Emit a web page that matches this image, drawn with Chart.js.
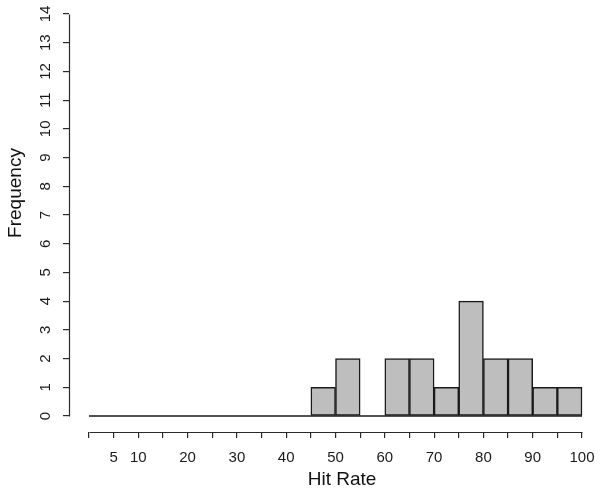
<!DOCTYPE html>
<html><head><meta charset="utf-8">
<script src="https://cdn.jsdelivr.net/npm/chart.js@4/dist/chart.umd.min.js"></script>
<style>html,body{margin:0;padding:0;background:#fff;}#wrap{width:600px;height:493px;position:relative;}</style>
</head><body><div id="wrap"><canvas id="c" width="600" height="493"></canvas></div>
<script>
// ---- data ----
const binStarts = [0,5,10,15,20,25,30,35,40,45,50,55,60,65,70,75,80,85,90,95];
const binWidth = 5;
const counts = [0,0,0,0,0,0,0,0,0,1,2,0,2,2,1,4,2,2,1,1];
const xTickValues = [0,5,10,15,20,25,30,35,40,45,50,55,60,65,70,75,80,85,90,95,100];
const xLabelValues = [5,10,20,30,40,50,60,70,80,90,100];
const yTickValues = [0,1,2,3,4,5,6,7,8,9,10,11,12,13,14];
const xTitle = 'Hit Rate';
const yTitle = 'Frequency';

Chart.defaults.font.family = '"Liberation Sans", Arial, Helvetica, sans-serif';

const barData = binStarts.map((s, i) => ({x: s + binWidth / 2, y: counts[i]}));
const baseData = [{x: binStarts[0], y: 0}, {x: binStarts[binStarts.length - 1] + binWidth, y: 0}];

const rAxes = {
  id: 'rAxes',
  afterDraw(chart) {
    const {ctx, scales: {x, y}, chartArea} = chart;
    ctx.save();
    ctx.strokeStyle = '#2a2a2a';
    ctx.lineWidth = 1.2;
    // y axis line (R style, spans first to last tick)
    const ax = Math.round(chartArea.left) + 0.5;
    ctx.beginPath();
    ctx.moveTo(ax, Math.round(y.getPixelForValue(yTickValues[0])) + 0.5);
    ctx.lineTo(ax, Math.round(y.getPixelForValue(yTickValues[yTickValues.length - 1])) + 0.5);
    ctx.stroke();
    // x axis line
    const ay = Math.round(chartArea.bottom) + 0.5;
    ctx.beginPath();
    ctx.moveTo(Math.round(x.getPixelForValue(xTickValues[0])) + 0.5, ay);
    ctx.lineTo(Math.round(x.getPixelForValue(xTickValues[xTickValues.length - 1])) + 0.5, ay);
    ctx.stroke();
    // titles
    ctx.fillStyle = '#111';
    ctx.font = '19px ' + Chart.defaults.font.family;
    ctx.textAlign = 'center';
    ctx.textBaseline = 'middle';
    ctx.fillText(xTitle, 342, 480);
    ctx.translate(16, 193);
    ctx.rotate(-Math.PI / 2);
    ctx.fillText(yTitle, 0, 0);
    ctx.restore();
  }
};

new Chart(document.getElementById('c'), {
  type: 'bar',
  data: {
    datasets: [
      {
        type: 'bar',
        data: barData,
        backgroundColor: '#bebebe',
        borderColor: '#1a1a1a',
        borderWidth: 1.5,
        borderSkipped: false,
        barPercentage: 1,
        categoryPercentage: 1,
        grouped: false,
        order: 2
      },
      {
        type: 'line',
        data: baseData,
        borderColor: '#1a1a1a',
        borderWidth: 1.5,
        pointRadius: 0,
        fill: false,
        order: 1
      }
    ]
  },
  options: {
    responsive: false,
    animation: false,
    devicePixelRatio: 1,
    layout: {padding: {top: 4, left: 0, right: 0, bottom: 0}},
    plugins: {legend: {display: false}, tooltip: {enabled: false}},
    scales: {
      x: {
        type: 'linear',
        offset: false,
        min: -4.057,
        max: 103.65,
        afterBuildTicks: s => { s.ticks = xTickValues.map(v => ({value: v})); },
        afterFit: s => { s.height = 61; s.paddingLeft = 0; s.paddingRight = 0; },
        ticks: {
          autoSkip: false, maxRotation: 0, minRotation: 0,
          callback: v => xLabelValues.includes(v) ? String(v) : '',
          font: {size: 15}, color: '#1a1a1a', padding: 11
        },
        grid: {offset: false, drawOnChartArea: false, drawTicks: true, tickLength: 6, color: '#2a2a2a', lineWidth: 1.2},
        border: {display: false}
      },
      y: {
        type: 'linear',
        min: -0.557,
        max: 14.348,
        afterBuildTicks: s => { s.ticks = yTickValues.map(v => ({value: v})); },
        afterFit: s => { s.width = 69; s.paddingTop = 0; s.paddingBottom = 0; },
        ticks: {
          autoSkip: false, minRotation: 90, maxRotation: 90, crossAlign: 'center',
          font: {size: 15}, color: '#1a1a1a', padding: 9
        },
        grid: {drawOnChartArea: false, drawTicks: true, tickLength: 6, color: '#2a2a2a', lineWidth: 1.2},
        border: {display: false}
      }
    }
  },
  plugins: [rAxes]
});
</script>
</body></html>
